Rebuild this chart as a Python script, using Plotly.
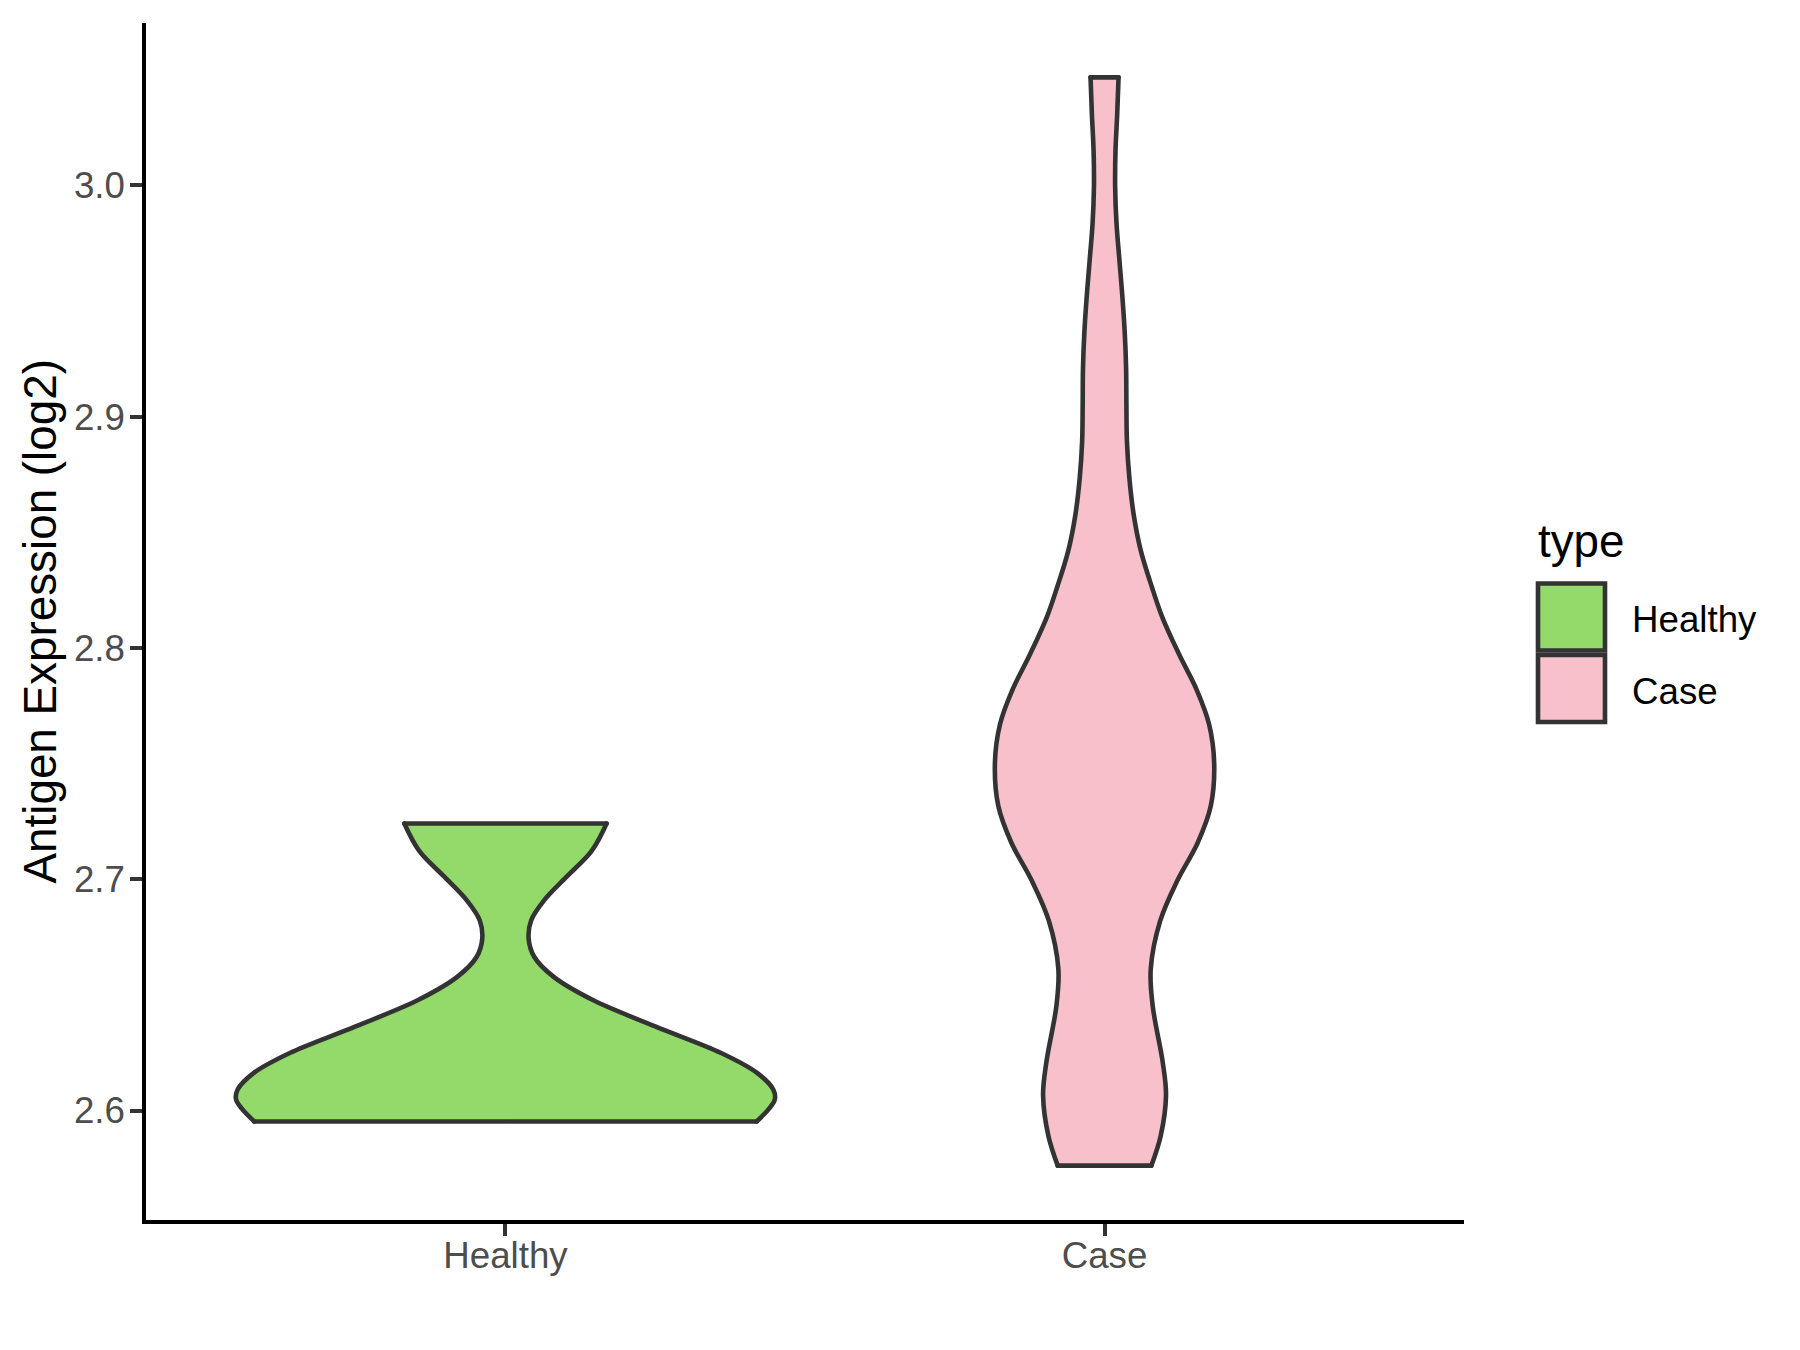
import plotly.graph_objects as go

# ---------------- data ----------------
categories = ["Healthy", "Case"]
category_positions = [0, 1]

# violin outline: expression value (log2) and half-width (in category units), top -> bottom
healthy_y = [2.7241, 2.7124, 2.7009, 2.6909, 2.6823, 2.6744, 2.6665, 2.6579, 2.6479,
             2.6364, 2.6249, 2.6163, 2.6091, 2.6049, 2.6005, 2.5953]
healthy_halfwidth = [0.1688, 0.1443, 0.1013, 0.0645, 0.0430, 0.0387, 0.0480, 0.0800, 0.1450,
                     0.2500, 0.3600, 0.4200, 0.4470, 0.4497, 0.4390, 0.4193]

case_y = [3.0467, 3.0307, 3.0150, 2.9993, 2.9835, 2.9678, 2.9521, 2.9364, 2.9207, 2.9050,
          2.8893, 2.8736, 2.8579, 2.8421, 2.8264, 2.8136, 2.7975, 2.7815, 2.7670, 2.7502,
          2.7318, 2.7157, 2.6997, 2.6820, 2.6612, 2.6452, 2.6211, 2.6067, 2.5890, 2.5762]
case_halfwidth = [0.0234, 0.0211, 0.0183, 0.0177, 0.0200, 0.0248, 0.0297, 0.0337, 0.0360, 0.0365,
                  0.0374, 0.0414, 0.0485, 0.0605, 0.0790, 0.0960, 0.1240, 0.1545, 0.1745, 0.1830,
                  0.1774, 0.1553, 0.1220, 0.0929, 0.0771, 0.0804, 0.0970, 0.1026, 0.0937, 0.0782]

y_tick_values = [2.6, 2.7, 2.8, 2.9, 3.0]
y_tick_labels = ["2.6", "2.7", "2.8", "2.9", "3.0"]

fill_colors = {"Healthy": "#93DA6A", "Case": "#F7C0CB"}
outline_color = "#333333"

# ---------------- figure ----------------
W, H = 1800, 1350
L, R, T, B = 146, 1464, 23, 1220  # plot area in pixels
LW = 4.6
AXW = 4.4
FONT = "Liberation Sans, Arial, sans-serif"

def px_x(p):
    return (p - L) / (R - L)

def px_y(p):
    return (B - p) / (B - T)

fig = go.Figure()

profiles = {"Healthy": (healthy_y, healthy_halfwidth), "Case": (case_y, case_halfwidth)}

# fills: left edge, then right edge filled back to the left edge
for cat, pos in zip(categories, category_positions):
    ys, hw = profiles[cat]
    left_x = [pos - w for w in hw]
    right_x = [pos + w for w in hw]
    fig.add_trace(go.Scatter(
        x=left_x, y=ys, mode="lines",
        line=dict(width=0, shape="spline", smoothing=1.0, simplify=False),
        showlegend=False, hoverinfo="skip",
    ))
    fig.add_trace(go.Scatter(
        x=right_x, y=ys, mode="lines", fill="tonextx", fillcolor=fill_colors[cat],
        line=dict(width=0, shape="spline", smoothing=1.0, simplify=False),
        name=cat, showlegend=False, hoverinfo="skip",
    ))

# outlines: both sides as smooth curves, flat top and bottom edges
for cat, pos in zip(categories, category_positions):
    ys, hw = profiles[cat]
    left_x = [pos - w for w in hw]
    right_x = [pos + w for w in hw]
    ox = left_x + [None] + right_x + [None] + [left_x[0], right_x[0]] + [None] + [left_x[-1], right_x[-1]]
    oy = list(ys) + [None] + list(ys) + [None] + [ys[0], ys[0]] + [None] + [ys[-1], ys[-1]]
    fig.add_trace(go.Scatter(
        x=ox, y=oy, mode="lines", connectgaps=False,
        line=dict(color=outline_color, width=LW, shape="spline", smoothing=1.0, simplify=False),
        showlegend=False, hoverinfo="skip",
    ))

tick_font = dict(family=FONT, size=36.7, color="#4D4D4D")

fig.update_layout(
    width=W, height=H,
    margin=dict(l=L, r=W - R, t=T, b=H - B, pad=0),
    paper_bgcolor="white", plot_bgcolor="white",
    showlegend=False,
    xaxis=dict(
        range=[-0.6, 1.6], tickmode="array",
        tickvals=category_positions, ticktext=categories,
        showgrid=False, zeroline=False,
        showline=True, linecolor="black", linewidth=AXW,
        ticks="outside", ticklen=11.5, tickwidth=AXW, tickcolor=outline_color,
        tickfont=tick_font, ticklabelstandoff=-12,
    ),
    yaxis=dict(
        range=[2.5527, 3.0702], tickmode="array",
        tickvals=y_tick_values, ticktext=y_tick_labels,
        showgrid=False, zeroline=False,
        showline=True, linecolor="black", linewidth=AXW,
        ticks="outside", ticklen=11.5, tickwidth=AXW, tickcolor=outline_color,
        tickfont=tick_font, ticklabelstandoff=-2,
    ),
)

title_font = dict(family=FONT, size=45.8, color="black")
legend_font = dict(family=FONT, size=36.7, color="black")

annotations = [
    dict(text="Antigen Expression (log2)", x=px_x(40), y=0.5, xref="paper", yref="paper",
         textangle=-90, showarrow=False, font=title_font, xanchor="center", yanchor="middle"),
    dict(text="type", x=px_x(1536), y=px_y(541), xref="paper", yref="paper",
         showarrow=False, font=title_font, xanchor="left", yanchor="middle"),
]

shapes = []
key_tops = [583.5, 655]
for cat, top in zip(categories, key_tops):
    shapes.append(dict(
        type="rect", xref="paper", yref="paper",
        x0=px_x(1538), x1=px_x(1605), y0=px_y(top + 67), y1=px_y(top),
        fillcolor=fill_colors[cat], line=dict(color=outline_color, width=LW),
    ))
    annotations.append(dict(
        text=cat, x=px_x(1630), y=px_y(top + 36), xref="paper", yref="paper",
        showarrow=False, font=legend_font, xanchor="left", yanchor="middle",
    ))

fig.update_layout(annotations=annotations, shapes=shapes)

post = (
    "document.body.style.margin='0';"
    "var s=document.createElement('style');"
    "s.textContent='.js-line{stroke-linecap:round;stroke-linejoin:round}';"
    "document.head.appendChild(s);"
)
fig.write_html("out.html", post_script=post, config={"displayModeBar": False})
